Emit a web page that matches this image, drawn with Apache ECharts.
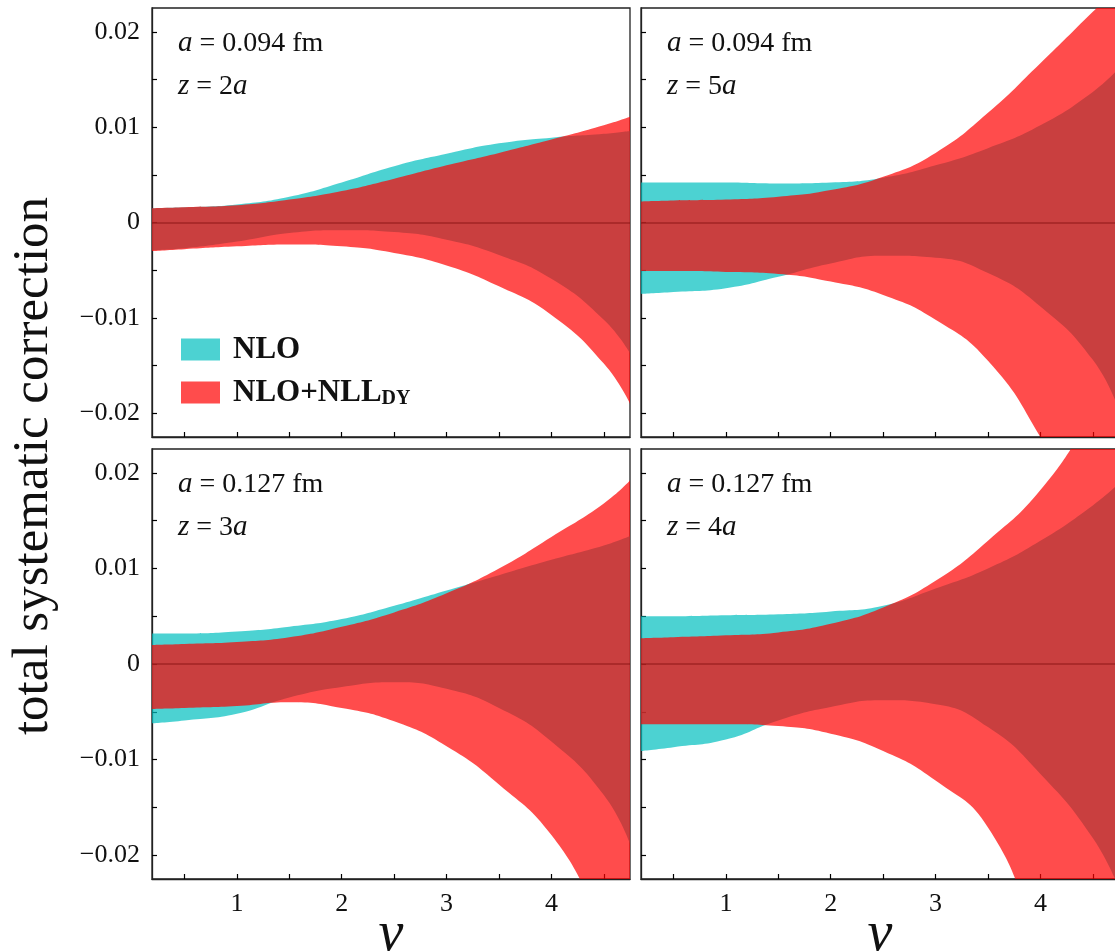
<!DOCTYPE html>
<html><head><meta charset="utf-8">
<script src="https://cdn.jsdelivr.net/npm/echarts@6/dist/echarts.min.js"></script>
<style>html,body{margin:0;padding:0;background:#fff}#c{width:1115px;height:952px}</style>
</head><body><div id="c"></div>
<script>
// ---- data ----
const nu = [0.19, 0.5, 1.0, 1.5, 2.0, 2.5, 3.0, 3.5, 4.0, 4.5, 4.75];
const xTicks = [0.5, 1, 1.5, 2, 2.5, 3, 3.5, 4, 4.5];
const xLabels = [1, 2, 3, 4];
const yTicks = [-0.02, -0.015, -0.01, -0.005, 0, 0.005, 0.01, 0.015, 0.02];
const yLabels = [-0.02, -0.01, 0, 0.01, 0.02];
const seriesNames = ['NLO', 'NLO+NLL'];
const panelA = ['0.094', '0.094', '0.127', '0.127'];
const panelZ = ['2', '5', '3', '4'];

// panel 1: a=0.094 fm, z=2a
const nloHi1 = [0.0015, 0.0016, 0.0019, 0.0027, 0.0042, 0.0059, 0.0072, 0.0083, 0.0089, 0.0093, 0.0096];
const nloLo1 = [-0.0029, -0.0027, -0.0020, -0.0011, -0.0008, -0.0010, -0.0018, -0.0034, -0.0059, -0.0102, -0.0137];
const nllHi1 = [0.0015, 0.0016, 0.0018, 0.0024, 0.0033, 0.0046, 0.0060, 0.0073, 0.0087, 0.0102, 0.0111];
const nllLo1 = [-0.0030, -0.0028, -0.0025, -0.0023, -0.0025, -0.0032, -0.0045, -0.0067, -0.0097, -0.0148, -0.0190];
// panel 2: a=0.094 fm, z=5a
const nloHi2 = [0.0042, 0.0042, 0.0042, 0.0041, 0.0042, 0.0047, 0.0060, 0.0078, 0.0102, 0.0137, 0.0162];
const nloLo2 = [-0.0075, -0.0073, -0.0069, -0.0057, -0.0043, -0.0035, -0.0037, -0.0053, -0.0088, -0.0144, -0.0197];
const nllHi2 = [0.0022, 0.0023, 0.0024, 0.0027, 0.0034, 0.0048, 0.0073, 0.0115, 0.0167, 0.0221, 0.0248];
const nllLo2 = [-0.0051, -0.0051, -0.0052, -0.0054, -0.0062, -0.0076, -0.0102, -0.0145, -0.0225, -0.0330, -0.0380];
// panel 3: a=0.127 fm, z=3a
const nloHi3 = [0.0032, 0.0032, 0.0034, 0.0039, 0.0047, 0.0061, 0.0077, 0.0093, 0.0109, 0.0124, 0.0134];
const nloLo3 = [-0.0062, -0.0059, -0.0052, -0.0035, -0.0024, -0.0019, -0.0026, -0.0046, -0.0081, -0.0137, -0.0188];
const nllHi3 = [0.0020, 0.0021, 0.0023, 0.0028, 0.0039, 0.0054, 0.0074, 0.0100, 0.0133, 0.0168, 0.0192];
const nllLo3 = [-0.0047, -0.0046, -0.0044, -0.0040, -0.0046, -0.0060, -0.0086, -0.0126, -0.0179, -0.0268, -0.0305];
// panel 4: a=0.127 fm, z=4a
const nloHi4 = [0.0050, 0.0050, 0.0051, 0.0052, 0.0055, 0.0061, 0.0079, 0.0100, 0.0129, 0.0166, 0.0189];
const nloLo4 = [-0.0091, -0.0087, -0.0079, -0.0059, -0.0045, -0.0038, -0.0042, -0.0066, -0.0115, -0.0182, -0.0235];
const nllHi4 = [0.0027, 0.0028, 0.0030, 0.0033, 0.0042, 0.0059, 0.0087, 0.0129, 0.0182, 0.0260, 0.0300];
const nllLo4 = [-0.0063, -0.0063, -0.0063, -0.0065, -0.0073, -0.0091, -0.0122, -0.0171, -0.0290, -0.0400, -0.0460];

const panels = [
  {nloHi: nloHi1, nloLo: nloLo1, nllHi: nllHi1, nllLo: nllLo1},
  {nloHi: nloHi2, nloLo: nloLo2, nllHi: nllHi2, nllLo: nllLo2},
  {nloHi: nloHi3, nloLo: nloLo3, nllHi: nllHi3, nllLo: nllLo3},
  {nloHi: nloHi4, nloLo: nloLo4, nllHi: nllHi4, nllLo: nllLo4}
];

// ---- styling / layout ----
const FONT = 'Liberation Serif';
const CYAN = 'rgba(0,191,191,0.7)';
const RED = 'rgba(255,0,0,0.7)';
const SMOOTH = 0.5;
const grids = [
  {left: 152, top: 8, width: 478, height: 429},
  {left: 641, top: 8, width: 478, height: 429},
  {left: 152, top: 449, width: 478, height: 430},
  {left: 641, top: 449, width: 478, height: 430}
];
const XMIN = 0.19, XMAX = 4.75, YMIN = -0.0225, YMAX = 0.0225;

function fmtY(v) {
  if (Math.abs(v) < 1e-12) return '0';
  return (v < 0 ? '\u2212' : '') + Math.abs(v).toFixed(2);
}

const xAxes = [], yAxes = [], series = [], graphics = [];
panels.forEach((p, i) => {
  const bottom = i >= 2, left = (i % 2) === 0;
  xAxes.push({
    type: 'value', gridIndex: i, min: XMIN, max: XMAX,
    axisLine: {show: true, onZero: false, lineStyle: {color: '#222', width: 1.3}},
    axisTick: {show: true, inside: true, length: 5, customValues: xTicks, lineStyle: {color: '#000', width: 1.2}},
    axisLabel: {show: bottom, customValues: xLabels, margin: 12, color: '#111', fontFamily: FONT, fontSize: 26},
    splitLine: {show: false},
    name: bottom ? 'ν' : '', nameLocation: 'middle', nameGap: 28, nameMoveOverlap: false,
    nameTextStyle: {fontFamily: FONT, fontStyle: 'italic', fontSize: 56, color: '#111'}
  });
  yAxes.push({
    type: 'value', gridIndex: i, min: YMIN, max: YMAX,
    axisLine: {show: true, onZero: false, lineStyle: {color: '#222', width: 1.3}},
    axisTick: {show: true, inside: true, length: 5, customValues: yTicks, lineStyle: {color: '#000', width: 1.2}},
    axisLabel: {show: left, customValues: yLabels, margin: 12, color: '#111', fontFamily: FONT, fontSize: 26, formatter: fmtY},
    splitLine: {show: false}
  });
  const bands = [
    {hi: p.nloHi, lo: p.nloLo, color: CYAN, name: seriesNames[0], key: 'nlo'},
    {hi: p.nllHi, lo: p.nllLo, color: RED, name: seriesNames[1], key: 'nll'}
  ];
  bands.forEach((b, k) => {
    const stack = 'p' + i + b.key;
    // data rows are [value, nu] so that the stacked dimension is the y value
    series.push({
      type: 'line', name: '_' + stack + '_lo', xAxisIndex: i, yAxisIndex: i,
      encode: {x: 1, y: 0},
      stack: stack, stackStrategy: 'all', smooth: SMOOTH, symbol: 'none', silent: true,
      lineStyle: {opacity: 0, width: 0}, z: 2,
      data: nu.map((x, j) => [b.lo[j], x])
    });
    const s = {
      type: 'line', name: b.name, xAxisIndex: i, yAxisIndex: i,
      encode: {x: 1, y: 0},
      stack: stack, stackStrategy: 'all', smooth: SMOOTH, symbol: 'none', silent: true,
      itemStyle: {color: b.color},
      lineStyle: {opacity: 0, width: 0},
      areaStyle: {color: b.color, opacity: 1},
      z: 2,
      data: nu.map((x, j) => [b.hi[j] - b.lo[j], x])
    };
    if (k === 1) {
      s.markLine = {
        silent: true, symbol: 'none', label: {show: false},
        lineStyle: {color: 'rgba(110,0,0,0.32)', width: 2, type: 'solid'},
        data: [{yAxis: 0}]
      };
    }
    series.push(s);
  });
  const g = grids[i];
  graphics.push({
    type: 'text', left: g.left + 26, top: g.top + 21, z: 100,
    style: {text: '{i|a} = ' + panelA[i] + ' fm', fontFamily: FONT, fontSize: 28, fill: '#111',
      rich: {i: {fontFamily: FONT, fontStyle: 'italic', fontSize: 29, fill: '#111'}}}
  });
  graphics.push({
    type: 'text', left: g.left + 26, top: g.top + 64, z: 100,
    style: {text: '{i|z} = ' + panelZ[i] + '{i|a}', fontFamily: FONT, fontSize: 28, fill: '#111',
      rich: {i: {fontFamily: FONT, fontStyle: 'italic', fontSize: 29, fill: '#111'}}}
  });
});

graphics.push({
  type: 'text', x: 34, y: 466, rotation: Math.PI / 2, z: 100,
  style: {text: 'total systematic correction', fontFamily: FONT, fontSize: 51, fill: '#111',
    align: 'center', verticalAlign: 'middle', textAlign: 'center', textVerticalAlign: 'middle'}
});

const option = {
  animation: false,
  backgroundColor: '#fff',
  grid: grids.map(g => Object.assign({show: true, borderColor: '#222', borderWidth: 1.3,
    backgroundColor: 'transparent', containLabel: false, outerBoundsMode: 'none'}, g)),
  xAxis: xAxes,
  yAxis: yAxes,
  legend: {
    left: 181, top: 334, orient: 'vertical', itemWidth: 39, itemHeight: 22, itemGap: 12,
    padding: 0, icon: 'rect', selectedMode: false, z: 50,
    data: [
      {name: seriesNames[0], itemStyle: {color: CYAN}},
      {name: seriesNames[1], itemStyle: {color: RED}}
    ],
    formatter: n => n === seriesNames[0] ? '{b|NLO}' : '{b|NLO+NLL}{s|DY}',
    textStyle: {
      color: '#111',
      rich: {
        b: {fontFamily: FONT, fontWeight: 'bold', fontSize: 31, color: '#111', padding: [0, 0, 0, 8]},
        s: {fontFamily: FONT, fontWeight: 'bold', fontSize: 20, color: '#111', padding: [12, 0, 0, 0]}
      }
    }
  },
  graphic: graphics,
  series: series
};
const chart = echarts.init(document.getElementById('c'), null, {renderer: 'canvas'});
chart.setOption(option);
</script></body></html>
